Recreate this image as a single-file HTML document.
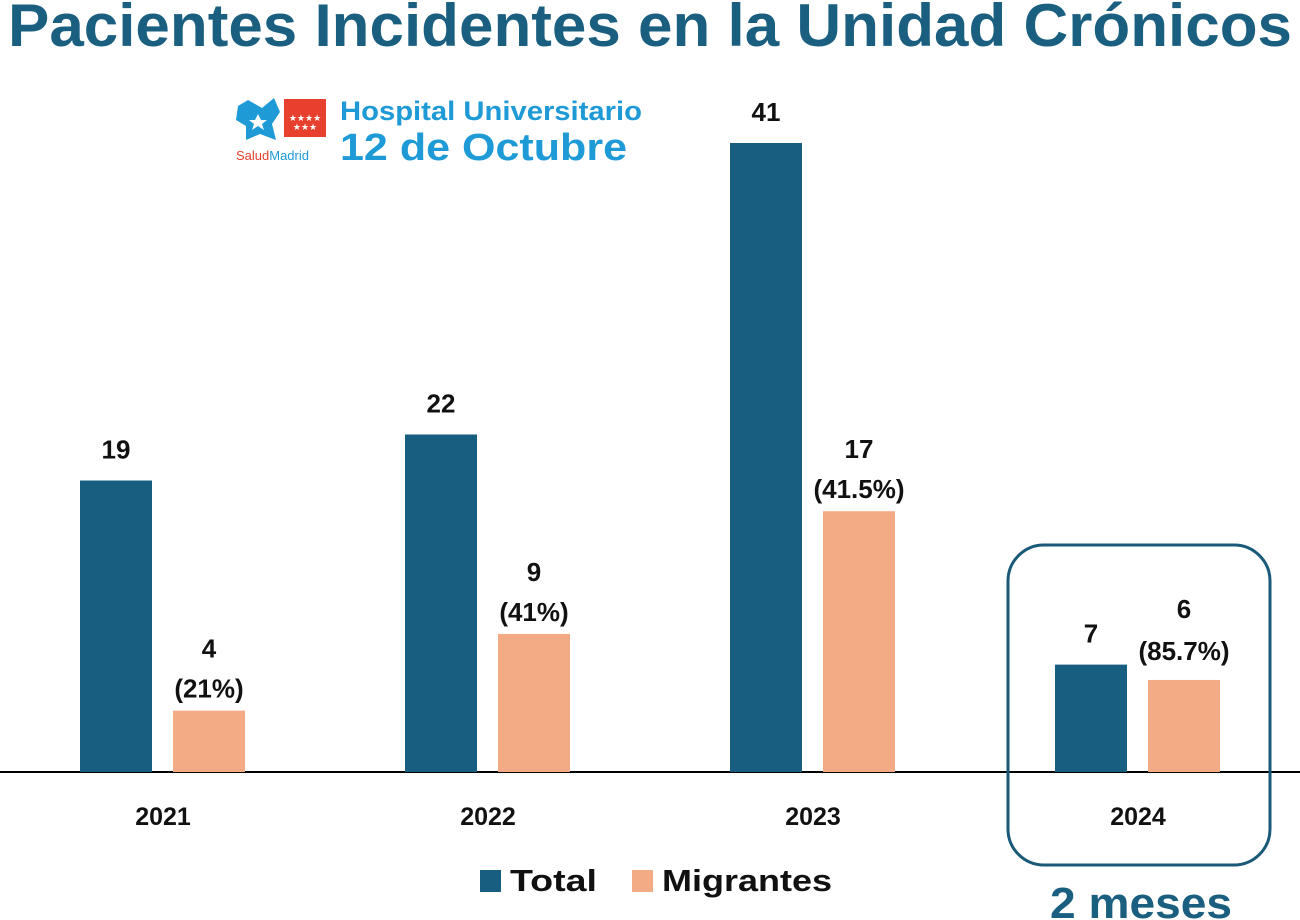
<!DOCTYPE html>
<html><head><meta charset="utf-8"><style>
html,body{margin:0;padding:0;background:#fff;}
svg{display:block;font-family:"Liberation Sans",Arial,sans-serif;}
</style></head><body>
<svg id="chart" width="1300" height="920" viewBox="0 0 1300 920">
<text x="8" y="46" font-size="60" font-weight="bold" fill="#1a5f80" textLength="1284" lengthAdjust="spacingAndGlyphs">Pacientes Incidentes en la Unidad Crónicos</text>
<g>
<path d="M248,100 L262,108 L274,98 L280,112 L272,124 L276,140 L260,134 L246,140 L246,126 L236,120 L238,106 Z" fill="#1e9ad6"/>
<path d="M258,114 l3,6 l6,0 l-5,4 l2,6 l-6,-4 l-6,4 l2,-6 l-5,-4 l6,0 z" fill="#fff"/>
<rect x="284" y="99" width="42" height="38" fill="#e8402e"/>
<text x="305" y="121" font-size="9" fill="#fff" text-anchor="middle">★★★★</text>
<text x="305" y="130" font-size="9" fill="#fff" text-anchor="middle">★★★</text>
<text x="236" y="160" font-size="13" fill="#e8402e">Salud<tspan fill="#1e9ad6">Madrid</tspan></text>
<text x="340" y="120" font-size="27" font-weight="bold" fill="#1e9ad6" textLength="302" lengthAdjust="spacingAndGlyphs">Hospital Universitario</text>
<text x="340" y="160" font-size="38" font-weight="bold" fill="#1e9ad6" textLength="287" lengthAdjust="spacingAndGlyphs">12 de Octubre</text>
</g>
<line x1="0" y1="772" x2="1300" y2="772" stroke="#000" stroke-width="2"/>
<rect x="1008" y="545" width="262" height="320" rx="36" fill="none" stroke="#1a5a78" stroke-width="3"/>
<text x="1050" y="918" font-size="44" font-weight="bold" fill="#1a5f80" textLength="182" lengthAdjust="spacingAndGlyphs">2 meses</text>
<g id="bars"></g>
<g>
<rect x="480" y="870" width="21" height="22" fill="#175e80"/>
<text x="510" y="891" font-size="31" font-weight="bold" fill="#111" textLength="87" lengthAdjust="spacingAndGlyphs">Total</text>
<rect x="632" y="870" width="21" height="22" fill="#f2ab85"/>
<text x="662" y="891" font-size="31" font-weight="bold" fill="#111" textLength="170" lengthAdjust="spacingAndGlyphs">Migrantes</text>
</g>
</svg>
<script>
const categories = ["2021","2022","2023","2024"];
const totalValues = [19,22,41,7];
const migrantValues = [4,9,17,6];
const migrantPctLabels = ["(21%)","(41%)","(41.5%)","(85.7%)"];

const NS="http://www.w3.org/2000/svg";
const g=document.getElementById('bars');
const baseY=772, pxPerUnit=629/41;
function y(v){return baseY - v*pxPerUnit;}
function xCenter(i){return 163 + i*325;}
function mk(tag,attrs,txt){const e=document.createElementNS(NS,tag);for(const k in attrs)e.setAttribute(k,attrs[k]);if(txt!=null)e.textContent=txt;g.appendChild(e);return e;}
categories.forEach((c,i)=>{
  const cx=xCenter(i);
  const tTop=y(totalValues[i]), mTop=y(migrantValues[i]);
  const last = i===categories.length-1;
  let r=mk('rect',{x:cx-83,y:tTop,width:72,height:baseY-tTop,fill:'#175e80'});
  
  
  r=mk('rect',{x:cx+10,y:mTop,width:72,height:baseY-mTop,fill:'#f2ab85'});
  
  
  let t=mk('text',{x:cx-47,y:tTop-22,'font-size':26,'font-weight':'bold','text-anchor':'middle',fill:'#111'},String(totalValues[i]));
  
  
  t=mk('text',{x:cx+46,y:mTop-(last?62:53),'font-size':26,'font-weight':'bold','text-anchor':'middle',fill:'#111'},String(migrantValues[i]));
  
  
  t=mk('text',{x:cx+46,y:mTop-(last?20:13),'font-size':26,'font-weight':'bold','text-anchor':'middle',fill:'#111'},migrantPctLabels[i]);
  
  
  t=mk('text',{x:cx,y:825,'font-size':25,'font-weight':'bold','text-anchor':'middle',fill:'#111'},c);
  
  
});
</script>
</body></html>
